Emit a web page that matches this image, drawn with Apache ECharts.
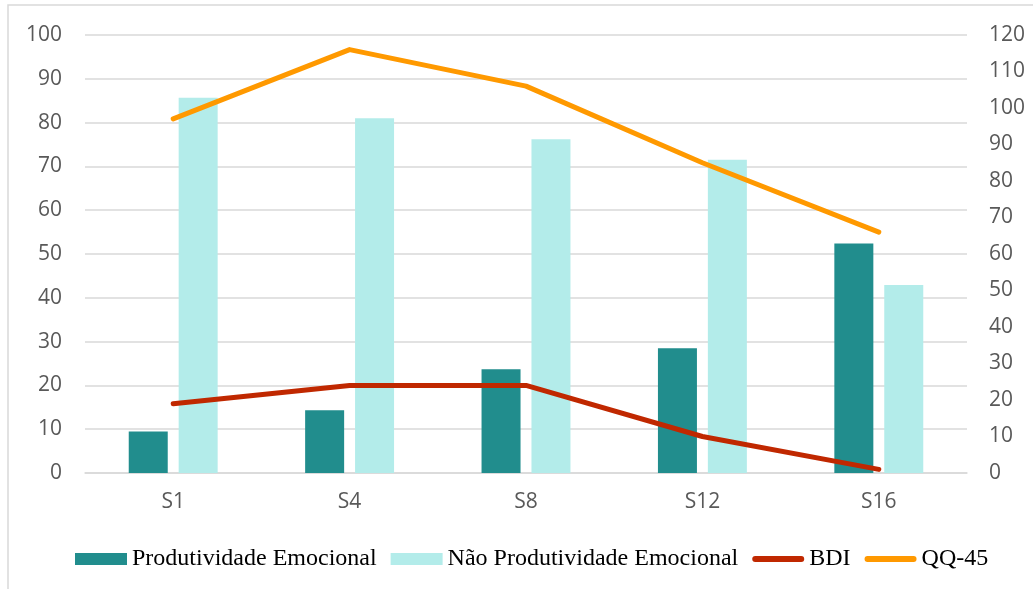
<!DOCTYPE html>
<html><head><meta charset="utf-8">
<script src="https://cdn.jsdelivr.net/npm/echarts@6/dist/echarts.min.js"></script>
<style>html,body{margin:0;padding:0;background:#fff}#c{width:1033px;height:589px}</style>
</head><body><div id="c"></div>
<script>
var categories = ['S1','S4','S8','S12','S16'];
var produtividade = [9.5, 14.3, 23.7, 28.5, 52.4];
var naoProdutividade = [85.7, 81.0, 76.2, 71.5, 42.9];
var bdi = [19, 24, 24, 10, 1];
var qq45 = [97, 116, 106, 85, 66];
var leftTicks = [0,100,10];
var rightTicks = [0,120,10];

var lineIcon = 'path://M0,0M52,12M3,3L49,3A3,3,0,0,1,49,9L3,9A3,3,0,0,1,3,3Z';
var axisFont = {color:'#595959', fontSize:21, fontFamily:'Open Sans'};
var chart = echarts.init(document.getElementById('c'));
chart.setOption({
  animation:false,
  graphic:[{type:'rect', shape:{x:8,y:5,width:1100,height:700}, style:{fill:'none', stroke:'#d9d9d9', lineWidth:1.5}, silent:true}],
  grid:{left:85,right:66,top:35,bottom:116},
  legend:{
    top:547, left:75, padding:0, itemWidth:52, itemHeight:12, itemGap:14,
    textStyle:{fontFamily:'Liberation Serif', fontSize:24, color:'#000'},
    data:[
      {name:'Produtividade Emocional', icon:'rect'},
      {name:'Não Produtividade Emocional', icon:'rect'},
      {name:'BDI', icon:lineIcon},
      {name:'QQ-45', icon:lineIcon}
    ]
  },
  xAxis:{type:'category', data:categories,
    axisLine:{lineStyle:{color:'#d9d9d9',width:1.5}}, axisTick:{show:false},
    axisLabel:Object.assign({margin:19}, axisFont)},
  yAxis:[
    {type:'value', min:leftTicks[0], max:leftTicks[1], interval:leftTicks[2],
     axisLine:{show:false}, axisTick:{show:false},
     splitLine:{lineStyle:{color:'#d9d9d9',width:1.5}},
     axisLabel:Object.assign({margin:23}, axisFont)},
    {type:'value', min:rightTicks[0], max:rightTicks[1], interval:rightTicks[2],
     axisLine:{show:false}, axisTick:{show:false}, splitLine:{show:false},
     axisLabel:Object.assign({margin:22}, axisFont)}
  ],
  series:[
    {name:'Produtividade Emocional', type:'bar', data:produtividade, yAxisIndex:0,
     barWidth:39, barGap:'28%', itemStyle:{color:'#218d8d'}},
    {name:'Não Produtividade Emocional', type:'bar', data:naoProdutividade, yAxisIndex:0,
     barWidth:39, barGap:'28%', itemStyle:{color:'#b3ecea'}},
    {name:'BDI', type:'line', data:bdi, yAxisIndex:1, symbol:'none', z:5,
     lineStyle:{color:'#c02800', width:5, cap:'round', join:'round'}, itemStyle:{color:'#c02800'}},
    {name:'QQ-45', type:'line', data:qq45, yAxisIndex:1, symbol:'none', z:5,
     lineStyle:{color:'#ff9900', width:5, cap:'round', join:'round'}, itemStyle:{color:'#ff9900'}}
  ]
});
</script></body></html>
